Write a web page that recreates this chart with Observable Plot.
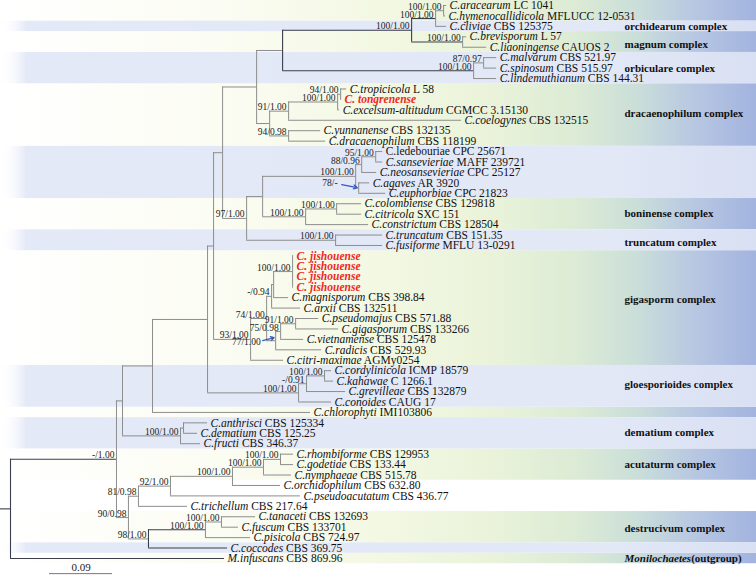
<!DOCTYPE html>
<html><head><meta charset="utf-8">
<script src="https://cdn.jsdelivr.net/npm/d3@7"></script>
<script src="https://cdn.jsdelivr.net/npm/@observablehq/plot@0.6"></script>
<style>html,body{margin:0;padding:0;background:#fff}svg{display:block}</style>
</head><body>
<script>
// ---------- DATA ----------
// Topology, branch lengths (substitutions/site) and support values (ML bootstrap / posterior probability)
const newick = `
((((((((
  ((((t0:0.0043,t1:0.0029)100/1.00:0.0114,t2:0.0157)100/1.00:0.0343,(t3:0.0057,t4:0.0343)100/1.00:0.0729)100/1.00:0.1843,
   ((t5:0.0186,t6:0.0186)87/0.97:0.0143,t7:0.0329)100/1.00:0.2729):0.0371,
  ((((t8:0.0086,t9:0.0014)94/1.00:0.0043,t10:0.0029)100/1.00:0.0700,t11:0.2471)91/1.00:0.0271,
   (t12:0.0457,t13:0.0529)94/0.98:0.0271):0.0186
 ):0.0486,
 (((((t14:0.0100,t15:0.0100)95/1.00:0.0200,t16:0.0214)88/0.96:0.0086,(t17:0.0157,t18:0.0386)78/-:0.0043)100/1.00:0.1329,
   ((t19:0.0357,t20:0.0357)100/1.00:0.0443,t21:0.0900)100/1.00:0.0614):0.0229,
  (t22:0.0671,t23:0.0671)100/1.00:0.1271)97/1.00:0.0343
 ):0.0129,
 (((((t24:0.0014,t25:0.0014,t26:0.0014,t27:0.0014)100/1.00:0.0271,t28:0.0214):0.0029,t29:0.0414)-/0.94:0.0071,
   (((t30:0.0329,t31:0.0614)91/1.00:0.0214,t32:0.0329)75/0.98:0.0071,t33:0.0657)77/1.00:0.0129)74/1.00:0.0229,
  t34:0.0471)93/1.00:0.0529
 ):0.0086,
 (((t35:0.0100,t36:0.0129)100/1.00:0.0257,t37:0.0557)-/0.91:0.0114,t38:0.0471)100/1.00:0.1300
 ):0.0786,
 t39:0.2257):0.0429,
 ((t40:0.0343,t41:0.0200):0.0043,t42:0.0286)100/1.00:0.0829
 ):0.0086,
 ((((((t43:0.0186,t44:0.0186)100/1.00:0.0243,t45:0.0400)100/1.00:0.0443,t46:0.0686)100/1.00:0.0886,t47:0.1857)92/1.00:0.0457,t48:0.0700)81/0.98:0.0143,
  (((t49:0.0486,t50:0.0243)100/1.00:0.0229,t51:0.0643)100/1.00:0.0814,t52:0.1129)98/1.00:0.0286)90/0.98:0.0171
)-/1.00:0.1514,
t53:0.3057);`;

const species = [
  "C.aracearum","C.hymenocallidicola","C.cliviae","C.brevisporum","C.liaoningense",
  "C.malvarum","C.spinosum","C.lindemuthianum","C.tropicicola","C. tongrenense",
  "C.excelsum-altitudum","C.coelogynes","C.yunnanense","C.dracaenophilum","C.ledebouriae",
  "C.sansevieriae","C.neosansevieriae","C.agaves","C.euphorbiae","C.colombiense",
  "C.citricola","C.constrictum","C.truncatum","C.fusiforme","C. jishouense",
  "C. jishouense","C. jishouense","C. jishouense","C.magnisporum","C.arxii",
  "C.pseudomajus","C.gigasporum","C.vietnamense","C.radicis","C.citri-maximae",
  "C.cordylinicola","C.kahawae","C.grevilleae","C.conoides","C.chlorophyti",
  "C.anthrisci","C.dematium","C.fructi","C.rhombiforme","C.godetiae",
  "C.nymphaeae","C.orchidophilum","C.pseudoacutatum","C.trichellum","C.tanaceti",
  "C.fuscum","C.pisicola","C.coccodes","M.infuscans"
];
const strains = [
  "LC 1041","MFLUCC 12-0531","CBS 125375","L 57","CAUOS 2",
  "CBS 521.97","CBS 515.97","CBS 144.31","L 58","",
  "CGMCC 3.15130","CBS 132515","CBS 132135","CBS 118199","CPC 25671",
  "MAFF 239721","CPC 25127","AR 3920","CPC 21823","CBS 129818",
  "SXC 151","CBS 128504","CBS 151.35","MFLU 13-0291","",
  "","","","CBS 398.84","CBS 132511",
  "CBS 571.88","CBS 133266","CBS 125478","CBS 529.93","AGMy0254",
  "ICMP 18579","C 1266.1","CBS 132879","CAUG 17","IMI103806",
  "CBS 125334","CBS 125.25","CBS 346.37","CBS 129953","CBS 133.44",
  "CBS 515.78","CBS 632.80","CBS 436.77","CBS 217.64","CBS 132693",
  "CBS 133701","CBS 724.97","CBS 369.75","CBS 869.96"
];
const newTaxa = [9, 24, 25, 26, 27];      // new species (shown in red)
const uprightTaxa = [14];                  // name printed without italics

const complexNames = ["orchidearum complex","magnum complex","orbiculare complex","dracaenophilum complex",
  "boninense complex","truncatum complex","gigasporm complex","gloesporioides complex","dematium complex",
  "acutaturm complex","destrucivum complex","Monilochaetes|(outgroup)"];
const complexRows = [2, 3.7, 6.05, 10.3, 19.9, 22.7, 28.2, 36.3, 40.9, 44, 50.1, 53];

// shaded row bands: first row, last row, kind (g = green panel, b = blue band)
const bandStart = [0, 2, 3, 5, 8, 14, 19, 22, 24, 35, 39, 40, 43, 49, 52, 53];
const bandEnd   = [1, 2, 4, 7, 13, 18, 21, 23, 34, 38, 39, 42, 45, 51, 52, 53];
const bandKind  = ["g","b","g","b","g","b","g","b","g","b","g","b","g","g","b","g"];

const scaleBarValue = 0.09;

// ---------- LAYOUT ----------
const W = 756, H = 578;
const rootPx = 10, pxPerUnit = 700;
const xDomain = [-rootPx / pxPerUnit, (W - rootPx) / pxPerUnit];
const yDomain = [0, 53], yRange = [5, 558];
const rowPx = (yRange[1] - yRange[0]) / (yDomain[1] - yDomain[0]);
const px = v => v / pxPerUnit, rp = v => v / rowPx;

function parseNewick(str) {
  const s = str.replace(/\s+/g, "");
  let i = 0;
  function node() {
    const n = {children: []};
    if (s[i] === "(") {
      i++;
      n.children.push(node());
      while (s[i] === ",") { i++; n.children.push(node()); }
      i++; // ')'
    }
    let name = "";
    while (i < s.length && !",():;".includes(s[i])) name += s[i++];
    n.name = name;
    n.len = 0;
    if (s[i] === ":") {
      i++;
      let l = "";
      while (i < s.length && !",();".includes(s[i])) l += s[i++];
      n.len = +l;
    }
    return n;
  }
  return node();
}

const tree = parseNewick(newick);
const all = [];
(function walk(n, parent) {
  n.parent = parent;
  n.x = parent ? parent.x + n.len : 0;
  all.push(n);
  n.children.forEach(c => walk(c, n));
  if (n.children.length) n.y = (n.children[0].y + n.children[n.children.length - 1].y) / 2;
  else n.row = n.y = +n.name.slice(1);
})(tree, null);

const leaves = all.filter(n => !n.children.length);
const leafAt = r => leaves.find(l => l.row === r);
function lca(a, b) {
  const anc = new Set();
  for (let n = a; n; n = n.parent) anc.add(n);
  for (let n = b; n; n = n.parent) if (anc.has(n)) return n;
}
const darkNodes = new Set([tree, lca(leafAt(0), leafAt(7)), lca(leafAt(0), leafAt(4)), lca(leafAt(49), leafAt(52))]);

const hsegs = all.filter(n => n.parent).map(n => ({x1: n.parent.x, x2: n.x, y: n.y, dark: darkNodes.has(n.parent)}));
hsegs.push({x1: xDomain[0], x2: 0, y: tree.y, dark: true});
const vsegs = all.filter(n => n.children.length).map(n => ({x: n.x, y1: n.children[0].y, y2: n.children[n.children.length - 1].y, dark: darkNodes.has(n)}));

const supports = all.filter(n => n.children.length && n.name);
const arrowed = {
  "78/-":    {lx: -21, ly: -5,  from: [-17, -3.5], to: [-1.5, -0.5]},
  "77/1.00": {lx: -15, ly: 1.5, from: [-13, 0],    to: [-1.5, -3]}
};
const plainSupports = supports.filter(n => !arrowed[n.name]);
const arrowSupports = supports.filter(n => arrowed[n.name]);

const taxonText = n => {
  const r = n.row;
  if (newTaxa.includes(r)) return species[r];
  if (uprightTaxa.includes(r)) return species[r] + " " + strains[r];
  return species[r] + "|" + strains[r];
};
const normalLeaves = leaves.filter(n => !newTaxa.includes(n.row));
const redLeaves = leaves.filter(n => newTaxa.includes(n.row));

const bands = bandStart.map((s, i) => ({r0: s, r1: bandEnd[i], kind: bandKind[i]}));
const complexes = complexNames.map((name, i) => ({name, row: complexRows[i]}));
const complexLabelX = px(614);
const scaleX0 = px(39), scaleRow = 54.45;

const gray = "#8d8d8d", dark = "#3b3e4c";

const plot = Plot.plot({
  width: W, height: H,
  marginTop: 0, marginRight: 0, marginBottom: 0, marginLeft: 0,
  x: {domain: xDomain, axis: null},
  y: {domain: yDomain, range: yRange, axis: null},
  style: {fontFamily: "'Liberation Serif', 'Times New Roman', serif", background: "#fff", color: "#111"},
  marks: [
    Plot.rect(bands.filter(b => b.kind === "g"), {x1: () => xDomain[0], x2: () => xDomain[1], y1: b => b.r0 - 0.5, y2: b => b.r1 + 0.5, fill: "url(#gpanel)"}),
    Plot.rect(bands.filter(b => b.kind === "b"), {x1: () => xDomain[0], x2: () => xDomain[1], y1: b => b.r0 - 0.5, y2: b => b.r1 + 0.5, fill: "url(#bband)"}),
    Plot.ruleY(hsegs.filter(d => !d.dark), {y: "y", x1: "x1", x2: "x2", stroke: gray, strokeWidth: 1}),
    Plot.ruleX(vsegs.filter(d => !d.dark), {x: "x", y1: "y1", y2: "y2", stroke: gray, strokeWidth: 1}),
    Plot.ruleY(hsegs.filter(d => d.dark), {y: "y", x1: "x1", x2: "x2", stroke: dark, strokeWidth: 1.1}),
    Plot.ruleX(vsegs.filter(d => d.dark), {x: "x", y1: "y1", y2: "y2", stroke: dark, strokeWidth: 1.1}),
    Plot.text(plainSupports, {x: "x", y: "y", text: "name", textAnchor: "end", dx: -2, dy: -4, fontSize: 9.5, fill: "#222"}),
    Plot.text(arrowSupports, {x: n => n.x + px(arrowed[n.name].lx), y: n => n.y + rp(arrowed[n.name].ly), text: "name", textAnchor: "end", fontSize: 9.5, fill: "#222"}),
    Plot.arrow(arrowSupports, {
      x1: n => n.x + px(arrowed[n.name].from[0]), y1: n => n.y + rp(arrowed[n.name].from[1]),
      x2: n => n.x + px(arrowed[n.name].to[0]), y2: n => n.y + rp(arrowed[n.name].to[1]),
      stroke: "#3558c4", strokeWidth: 1.2, headLength: 5
    }),
    Plot.text(normalLeaves, {x: "x", y: "y", text: taxonText, textAnchor: "start", dx: 3, fontSize: 11.5, fill: "#111"}),
    Plot.text(redLeaves, {x: "x", y: "y", text: taxonText, textAnchor: "start", dx: 3, fontSize: 11.5, fill: "#ee2a1f", fontWeight: "bold", fontStyle: "italic"}),
    Plot.text(complexes, {x: () => complexLabelX, y: "row", text: "name", textAnchor: "start", fontSize: 11, fontWeight: "bold", fill: "#111"}),
    Plot.ruleY([scaleBarValue], {y: () => scaleRow, x1: () => scaleX0, x2: v => scaleX0 + v, stroke: "#777", strokeWidth: 1}),
    Plot.text([scaleBarValue], {x: v => scaleX0 + v / 2, y: () => scaleRow - 0.6, text: v => String(v), fontSize: 11, fill: "#222"})
  ]
});

// gradients for the shaded bands
const svg = d3.select(plot);
const defs = svg.insert("defs", ":first-child");
const g1 = defs.append("linearGradient").attr("id", "gpanel").attr("x1", 0).attr("x2", 1).attr("y1", 0).attr("y2", 0);
[[0, "#ffffff"], [0.3, "#fbfcf2"], [0.5, "#f3f8e3"], [0.65, "#eaf3da"], [0.76, "#dcebd5"], [0.84, "#cbdfd9"], [0.92, "#b7c7e2"], [1, "#a2b3df"]]
  .forEach(([o, c]) => g1.append("stop").attr("offset", o).attr("stop-color", c));
const g2 = defs.append("linearGradient").attr("id", "bband").attr("x1", 0).attr("x2", 1).attr("y1", 0).attr("y2", 0);
[[0, "#ffffff", 0], [0.035, "#e4e9f7", 1], [0.8, "#e2e8f6", 1], [1, "#d9e0f3", 1]]
  .forEach(([o, c, a]) => g2.append("stop").attr("offset", o).attr("stop-color", c).attr("stop-opacity", a));

// italic name + upright strain
svg.selectAll("text").each(function() {
  const t = this.textContent;
  if (!t.includes("|")) return;
  const [a, b] = t.split("|");
  const s = d3.select(this);
  s.text(null);
  s.append("tspan").attr("font-style", "italic").text(a);
  s.append("tspan").text((b.startsWith("(") ? "" : " ") + b);
});

document.body.append(plot);
</script>
</body></html>
